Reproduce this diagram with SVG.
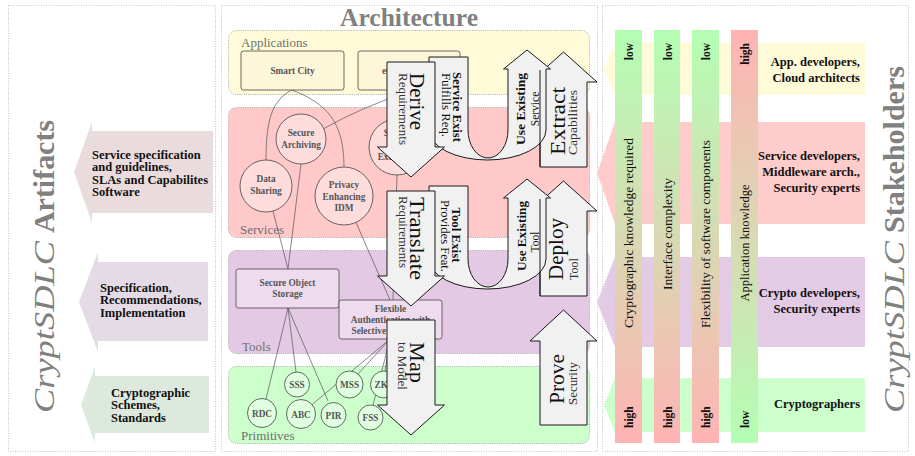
<svg xmlns="http://www.w3.org/2000/svg" width="915" height="456" viewBox="0 0 915 456">
<defs>
<linearGradient id="gUp" x1="0" y1="0" x2="0" y2="1"><stop offset="0" stop-color="#b3ffb3"/><stop offset="1" stop-color="#ffb3b3"/></linearGradient>
<linearGradient id="gDown" x1="0" y1="0" x2="0" y2="1"><stop offset="0" stop-color="#ffb3b3"/><stop offset="1" stop-color="#b3ffb3"/></linearGradient>
</defs>
<style>
text{font-family:"Liberation Serif","Times New Roman",serif}
.panel{fill:none;stroke:#c4c4c4;stroke-width:1;stroke-dasharray:1 1.5}
.grp{stroke:#999;stroke-width:0.8;stroke-dasharray:1 1.2}
.gl{font-size:13px;fill:#707070}
.ttl{font-size:30px;fill:#808080}
.it{font-style:italic}
.bd{font-weight:bold}
.node text{font-size:9.3px;font-weight:bold;fill:#555;text-anchor:middle}
.node rect,.node circle{stroke:#444;stroke-width:0.8}
.app rect{fill:#fdf6d8}
.svc circle{fill:#ffdcdc}
.tool rect{fill:#eedcee}
.prim circle{fill:#e0ffe0}
#connectors path{fill:none;stroke:#555;stroke-width:0.7}
.arr path{fill:#f1f1f1;stroke:#1a1a1a;stroke-width:1}
.big{font-size:21px;fill:#111}
.sm{font-size:12px;fill:#333}
.ul{font-size:11.5px;fill:#111}
.art{font-size:12.5px;font-weight:bold;fill:#111}
.stk{font-size:12.5px;font-weight:bold;fill:#111;text-anchor:end}
.bt{font-size:13.5px;fill:#111;text-anchor:middle}
.lh{font-size:11.5px;font-weight:bold;fill:#111}
</style>

<!-- panels -->
<rect class="panel" x="8.5" y="5.5" width="207" height="446"/>
<rect class="panel" x="221.5" y="5.5" width="376" height="446"/>
<rect class="panel" x="602.5" y="5.5" width="306" height="446"/>

<!-- Left: Artifacts -->
<g id="artifacts">
<text class="ttl it" transform="translate(54,413) rotate(-90)" textLength="172" lengthAdjust="spacingAndGlyphs">CryptSDLC</text>
<text class="ttl bd" transform="translate(54,233) rotate(-90)" textLength="113" lengthAdjust="spacingAndGlyphs">Artifacts</text>
<g id="art-services">
<polygon points="74,172 92,122 92,131 213,131 213,213 92,213 92,223" fill="#eadcdc"/>
<text class="art" x="92" y="158.5">Service specification</text>
<text class="art" x="92" y="171">and guidelines,</text>
<text class="art" x="92" y="183.5">SLAs and Capabilites</text>
<text class="art" x="92" y="196">Software</text>
</g>
<g id="art-tools">
<polygon points="79,302 98,252 98,262 208,262 208,341 98,341 98,352" fill="#e4dbe6"/>
<text class="art" x="100" y="291.5">Specification,</text>
<text class="art" x="100" y="304">Recommendations,</text>
<text class="art" x="100" y="316.5">Implementation</text>
</g>
<g id="art-prims">
<polygon points="81,405 95,367 95,376 209,376 209,433 95,433 95,443" fill="#dce9dc"/>
<text class="art" x="111" y="396.5">Cryptographic</text>
<text class="art" x="111" y="409">Schemes,</text>
<text class="art" x="111" y="421.5">Standards</text>
</g>
</g>

<!-- Middle: Architecture -->
<text x="409" y="26" font-size="26" font-weight="bold" fill="#808080" text-anchor="middle" textLength="138" lengthAdjust="spacingAndGlyphs">Architecture</text>

<g id="layers">
<rect class="grp" x="228.5" y="30.5" width="361" height="64" rx="8" fill="#fffad7"/>
<rect class="grp" x="228.5" y="107.5" width="361" height="130" rx="8" fill="#ffc9c9"/>
<rect class="grp" x="228.5" y="250.5" width="361" height="103" rx="8" fill="#e4c9e4"/>
<rect class="grp" x="228.5" y="366.5" width="361" height="77" rx="8" fill="#ccffcc"/>
<text class="gl" x="241" y="46.5">Applications</text>
<text class="gl" x="240" y="233.5">Services</text>
<text class="gl" x="242" y="351">Tools</text>
<text class="gl" x="241" y="440">Primitives</text>
</g>

<g id="connectors">
<path d="M292,90 C272,100 266,120 266,160"/>
<path d="M292,90 C325,103 344,120 344,167"/>
<path d="M410,91 Q360,108 323,129"/>
<path d="M301,164 L288,269"/>
<path d="M273,211 L288,269"/>
<path d="M356,222.5 L390,300"/>
<path d="M397,175 L393,300"/>
<path d="M288,308 L266,399"/>
<path d="M288,308 L296,372"/>
<path d="M288,308 L328,401"/>
<path d="M390,339 L311.5,405"/>
<path d="M390,339 L358,374"/>
<path d="M390,339 L373,405"/>
<path d="M390,339 L385,371"/>
</g>

<g id="smart-city" class="node app"><rect x="241" y="51" width="103" height="39" rx="2.5"/><text x="292.5" y="74">Smart City</text></g>
<g id="egovernment" class="node app"><rect x="358" y="51" width="102" height="39" rx="2.5"/><text x="409" y="74">eGovernment</text></g>

<g id="secure-archiving" class="node svc"><circle cx="301" cy="139" r="25"/><text x="301" y="136">Secure</text><text x="301" y="147.5">Archiving</text></g>
<g id="data-sharing" class="node svc"><circle cx="266" cy="186" r="26"/><text x="266" y="182">Data</text><text x="266" y="194">Sharing</text></g>
<g id="privacy-idm" class="node svc"><circle cx="344" cy="196" r="29"/><text x="344" y="188">Privacy</text><text x="344" y="199.5">Enhancing</text><text x="344" y="211">IDM</text></g>
<g id="secure-exchange" class="node svc"><circle cx="397" cy="147" r="28"/><text x="397" y="136">Secure</text><text x="397" y="148">Data</text><text x="397" y="160">Exchange</text></g>

<g id="secure-object-storage" class="node tool"><rect x="236" y="269" width="103" height="39" rx="2.5"/><text x="287.5" y="286">Secure Object</text><text x="287.5" y="297">Storage</text></g>
<g id="flexible-auth" class="node tool"><rect x="339" y="300" width="103" height="39" rx="2.5"/><text x="390.5" y="312">Flexible</text><text x="390.5" y="323">Authentication with</text><text x="390.5" y="334">Selective Disclosure</text></g>

<g id="sss" class="node prim"><circle cx="297" cy="384.5" r="12.5"/><text x="297" y="388">SSS</text></g>
<g id="mss" class="node prim"><circle cx="349.5" cy="384.5" r="13.5"/><text x="349.5" y="388">MSS</text></g>
<g id="zkp" class="node prim"><circle cx="384" cy="384.5" r="13.5"/><text x="384" y="388">ZKP</text></g>
<g id="rdc" class="node prim"><circle cx="262" cy="413" r="14.5"/><text x="262" y="416.5">RDC</text></g>
<g id="abc" class="node prim"><circle cx="301" cy="414" r="14.5"/><text x="301" y="417.5">ABC</text></g>
<g id="pir" class="node prim"><circle cx="333.5" cy="415" r="12.5"/><text x="333.5" y="418.5">PIR</text></g>
<g id="fss" class="node prim"><circle cx="370.5" cy="417.5" r="12.5"/><text x="370.5" y="421">FSS</text></g>

<!-- process arrows -->
<g id="extract" class="arr"><path d="M540,167 L587,167 L587,82 L597,82 L563.5,52 L530,82 L540,82 Z"/>
<text class="big" transform="translate(565,155) rotate(-90)" textLength="68" lengthAdjust="spacingAndGlyphs">Extract</text>
<text class="sm" transform="translate(577,155) rotate(-90)" textLength="65" lengthAdjust="spacingAndGlyphs">Capabilities</text></g>
<g id="service-exist" class="arr"><path d="M429,57 L468,57 L468,130 A20,28 0 0 0 508,130 L508,69 L503.5,69 L527,50 L550.5,69 L546,69 L546,130 A58.5,30 0 0 1 429,130 Z"/>
<text class="ul bd" transform="translate(453,107) rotate(90)" text-anchor="middle" textLength="70" lengthAdjust="spacingAndGlyphs">Service Exist</text>
<text class="ul" transform="translate(442,105) rotate(90)" text-anchor="middle" textLength="64" lengthAdjust="spacingAndGlyphs">Fulfills Req.</text>
<text class="ul bd" transform="translate(525,109) rotate(-90)" text-anchor="middle" textLength="72" lengthAdjust="spacingAndGlyphs">Use Existing</text>
<text class="ul" transform="translate(539,109) rotate(-90)" text-anchor="middle">Service</text></g>
<path d="M540,70 L540,167" stroke="#1a1a1a" stroke-width="1"/>
<g id="derive" class="arr"><path d="M387,62 L435,62 L435,147 L444.5,147 L411,177 L377.5,147 L387,147 Z"/>
<text class="big" transform="translate(410,73) rotate(90)" textLength="57" lengthAdjust="spacingAndGlyphs">Derive</text>
<text class="sm" transform="translate(398.5,73) rotate(90)" textLength="72" lengthAdjust="spacingAndGlyphs">Requirements</text></g>

<g id="deploy" class="arr"><path d="M540,296 L587,296 L587,211 L597,211 L563.5,181 L530,211 L540,211 Z"/>
<text class="big" transform="translate(563,280) rotate(-90)" textLength="62" lengthAdjust="spacingAndGlyphs">Deploy</text>
<text class="sm" transform="translate(578,280) rotate(-90)">Tool</text></g>
<g id="tool-exist" class="arr"><path d="M429,186 L468,186 L468,259 A20,28 0 0 0 508,259 L508,198 L503.5,198 L527,179 L550.5,198 L546,198 L546,259 A58.5,30 0 0 1 429,259 Z"/>
<text class="ul bd" transform="translate(452,235) rotate(90)" text-anchor="middle" textLength="55" lengthAdjust="spacingAndGlyphs">Tool Exist</text>
<text class="ul" transform="translate(441,236) rotate(90)" text-anchor="middle" textLength="72" lengthAdjust="spacingAndGlyphs">Provides Feat.</text>
<text class="ul bd" transform="translate(526,236) rotate(-90)" text-anchor="middle" textLength="70" lengthAdjust="spacingAndGlyphs">Use Existing</text>
<text class="ul" transform="translate(539,242) rotate(-90)" text-anchor="middle">Tool</text></g>
<path d="M540,199 L540,296" stroke="#1a1a1a" stroke-width="1"/>
<g id="translate" class="arr"><path d="M387,191 L435,191 L435,276 L444.5,276 L411,306 L377.5,276 L387,276 Z"/>
<text class="big" transform="translate(410,197) rotate(90)" textLength="83" lengthAdjust="spacingAndGlyphs">Translate</text>
<text class="sm" transform="translate(398.5,196) rotate(90)" textLength="72" lengthAdjust="spacingAndGlyphs">Requirements</text></g>

<g id="map" class="arr"><path d="M387,320 L435,320 L435,405 L444.5,405 L411,435 L377.5,405 L387,405 Z"/>
<text class="big" transform="translate(410,342) rotate(90)" textLength="41" lengthAdjust="spacingAndGlyphs">Map</text>
<text class="sm" transform="translate(397.5,342) rotate(90)" textLength="48" lengthAdjust="spacingAndGlyphs">to Model</text></g>
<g id="prove" class="arr"><path d="M540,425 L587,425 L587,341 L597,341 L563.5,310 L530,341 L540,341 Z"/>
<text class="big" transform="translate(564,404) rotate(-90)" textLength="50" lengthAdjust="spacingAndGlyphs">Prove</text>
<text class="sm" transform="translate(577,405) rotate(-90)" textLength="43" lengthAdjust="spacingAndGlyphs">Security</text></g>

<!-- Right: Stakeholders -->
<g id="stakeholders">
<g id="stk-app"><polygon points="604,69 615,43 865,43 865,95 615,95" fill="#fffad8"/>
<text class="stk" x="860" y="66">App. developers,</text><text class="stk" x="860" y="82">Cloud architects</text></g>
<g id="stk-svc"><polygon points="597,173 615,122 865,122 865,224 615,224" fill="#ffcccc"/>
<text class="stk" x="860" y="160">Service developers,</text><text class="stk" x="860" y="176">Middleware arch.,</text><text class="stk" x="860" y="192">Security experts</text></g>
<g id="stk-tool"><polygon points="597,302 615,257 865,257 865,347 615,347" fill="#e3cbe6"/>
<text class="stk" x="860" y="297">Crypto developers,</text><text class="stk" x="860" y="312.5">Security experts</text></g>
<g id="stk-prim"><polygon points="604,405 615,378 865,378 865,432 615,432" fill="#ccffcc"/>
<text class="stk" x="860" y="408">Cryptographers</text></g>

<g id="bar-crypto"><rect x="615" y="30" width="27" height="413" fill="url(#gUp)"/>
<text class="lh" transform="translate(633,43) rotate(-90)" text-anchor="end">low</text>
<text class="bt" transform="translate(633,233) rotate(-90)" textLength="190" lengthAdjust="spacingAndGlyphs">Cryptographic knowledge required</text>
<text class="lh" transform="translate(633,428) rotate(-90)">high</text></g>
<g id="bar-interface"><rect x="654" y="30" width="26" height="413" fill="url(#gUp)"/>
<text class="lh" transform="translate(671.5,43) rotate(-90)" text-anchor="end">low</text>
<text class="bt" transform="translate(671.5,234) rotate(-90)" textLength="112" lengthAdjust="spacingAndGlyphs">Interface complexity</text>
<text class="lh" transform="translate(671.5,428) rotate(-90)">high</text></g>
<g id="bar-flex"><rect x="692" y="30" width="27" height="413" fill="url(#gUp)"/>
<text class="lh" transform="translate(710,43) rotate(-90)" text-anchor="end">low</text>
<text class="bt" transform="translate(710,234) rotate(-90)" textLength="188" lengthAdjust="spacingAndGlyphs">Flexibility of software components</text>
<text class="lh" transform="translate(710,428) rotate(-90)">high</text></g>
<g id="bar-appknow"><rect x="731" y="30" width="27" height="413" fill="url(#gDown)"/>
<text class="lh" transform="translate(749,43) rotate(-90)" text-anchor="end">high</text>
<text class="bt" transform="translate(749,243) rotate(-90)" textLength="117" lengthAdjust="spacingAndGlyphs">Application knowledge</text>
<text class="lh" transform="translate(749,428) rotate(-90)">low</text></g>

<text class="ttl it" transform="translate(904,413) rotate(-90)" textLength="172" lengthAdjust="spacingAndGlyphs">CryptSDLC</text>
<text class="ttl bd" transform="translate(904,233) rotate(-90)" textLength="167" lengthAdjust="spacingAndGlyphs">Stakeholders</text>
</g>
</svg>
